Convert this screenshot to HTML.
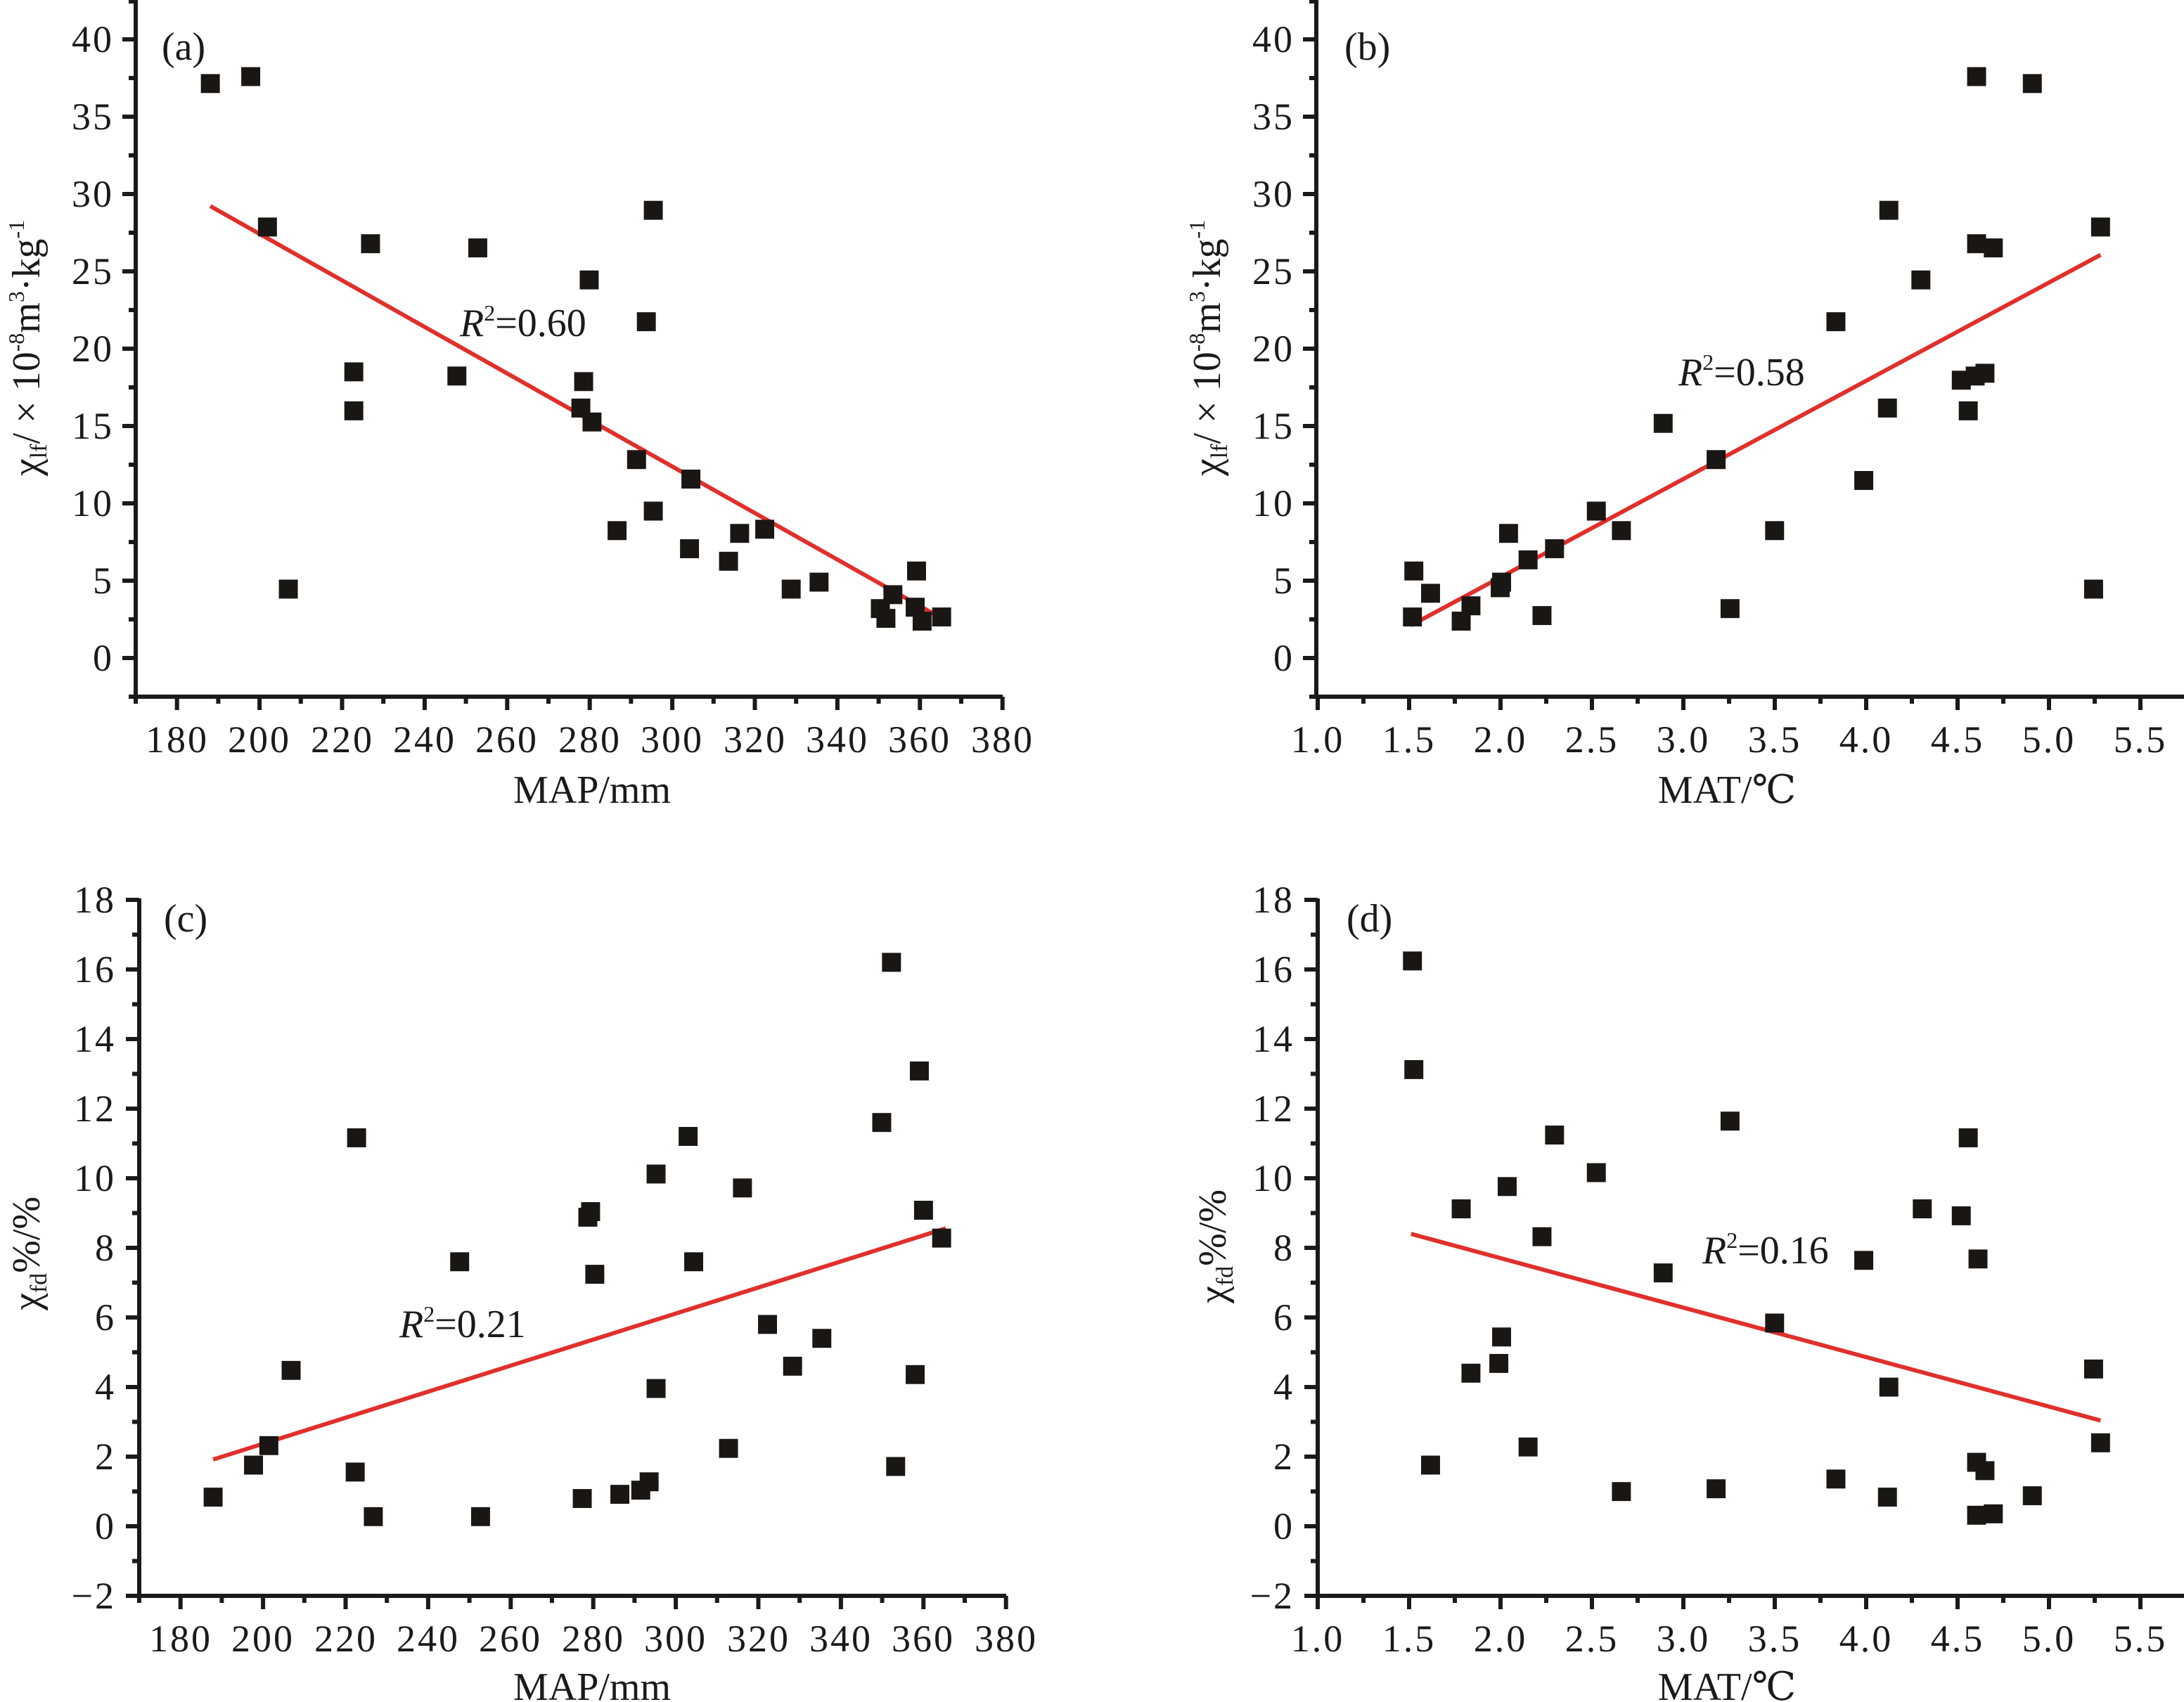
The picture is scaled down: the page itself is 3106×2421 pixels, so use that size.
<!DOCTYPE html>
<html><head><meta charset="utf-8"><style>
html,body{margin:0;padding:0;background:#fff;}
svg{display:block;}
text{font-family:"Liberation Serif","DejaVu Serif",serif;fill:#1a1a1a;}
.tk{font-size:54px;letter-spacing:3px;}
.ti{font-size:56px;}
</style></head><body>
<svg width="3106" height="2421" viewBox="0 0 3106 2421" xmlns="http://www.w3.org/2000/svg">
<defs>
<g id="xmap" stroke="#1a1a1a" stroke-width="6" fill="none">
<path d="M188,991H1426 M251.7,991v19 M369.1,991v19 M486.5,991v19 M603.9,991v19 M721.3,991v19 M838.7,991v19 M956.1,991v19 M1073.5,991v19 M1190.9,991v19 M1308.3,991v19 M1425.7,991v19 M193,991v10 M310.4,991v10 M427.8,991v10 M545.2,991v10 M662.6,991v10 M780,991v10 M897.4,991v10 M1014.8,991v10 M1132.2,991v10 M1249.6,991v10 M1367,991v10"/>
</g>
<g id="xmat" stroke="#1a1a1a" stroke-width="6" fill="none">
<path d="M1866,991H3106 M1874,991v19 M2004,991v19 M2134,991v19 M2264,991v19 M2394,991v19 M2524,991v19 M2654,991v19 M2784,991v19 M2914,991v19 M3044,991v19 M1939,991v10 M2069,991v10 M2199,991v10 M2329,991v10 M2459,991v10 M2589,991v10 M2719,991v10 M2849,991v10 M2979,991v10"/>
</g>
<g id="ychi" stroke="#1a1a1a" stroke-width="6" fill="none">
<path d="M193,0V994 M174,936h19 M174,826h19 M174,716h19 M174,606h19 M174,496h19 M174,386h19 M174,276h19 M174,166h19 M174,56h19 M183,991h10 M183,881h10 M183,771h10 M183,661h10 M183,551h10 M183,441h10 M183,331h10 M183,221h10 M183,111h10 M183,2h10"/>
</g>
<g id="yfd" stroke="#1a1a1a" stroke-width="6" fill="none">
<path d="M198,1278V2273 M179,2270h19 M179,2171h19 M179,2072h19 M179,1973h19 M179,1874h19 M179,1775h19 M179,1676h19 M179,1577h19 M179,1478h19 M179,1379h19 M179,1280h19 M188,2220.5h10 M188,2121.5h10 M188,2022.5h10 M188,1923.5h10 M188,1824.5h10 M188,1725.5h10 M188,1626.5h10 M188,1527.5h10 M188,1428.5h10 M188,1329.5h10"/>
</g>
</defs>

<!-- Panel a -->
<use href="#xmap"/>
<use href="#ychi"/>
<g class="tk" text-anchor="end">
<text x="162" y="954">0</text><text x="162" y="844">5</text><text x="162" y="734">10</text><text x="162" y="624">15</text><text x="162" y="514">20</text><text x="162" y="404">25</text><text x="162" y="294">30</text><text x="162" y="184">35</text><text x="162" y="74">40</text>
</g>
<g class="tk" text-anchor="middle">
<text x="252" y="1070">180</text><text x="369" y="1070">200</text><text x="487" y="1070">220</text><text x="604" y="1070">240</text><text x="721" y="1070">260</text><text x="839" y="1070">280</text><text x="956" y="1070">300</text><text x="1074" y="1070">320</text><text x="1191" y="1070">340</text><text x="1308" y="1070">360</text><text x="1426" y="1070">380</text>
</g>
<text class="ti" x="842" y="1142" text-anchor="middle">MAP/mm</text>
<text class="ti" x="230" y="85">(a)</text>
<text class="ti" x="654" y="478"><tspan font-style="italic">R</tspan><tspan font-size="32" dy="-22">2</tspan><tspan dy="22">=0.60</tspan></text>
<text class="ti" transform="translate(56,495) rotate(-90)" text-anchor="middle">χ<tspan font-size="34" dy="10">lf</tspan><tspan dy="-10">/ × 10</tspan><tspan font-size="32" dy="-22">-8</tspan><tspan dy="22">m</tspan><tspan font-size="32" dy="-22">3</tspan><tspan dy="22">·kg</tspan><tspan font-size="32" dy="-22">-1</tspan></text>

<!-- Panel b -->
<use href="#xmat"/>
<use href="#ychi" transform="translate(1679,0)"/>
<g class="tk" text-anchor="end">
<text x="1841" y="954">0</text><text x="1841" y="844">5</text><text x="1841" y="734">10</text><text x="1841" y="624">15</text><text x="1841" y="514">20</text><text x="1841" y="404">25</text><text x="1841" y="294">30</text><text x="1841" y="184">35</text><text x="1841" y="74">40</text>
</g>
<g class="tk" text-anchor="middle">
<text x="1874" y="1070">1.0</text><text x="2004" y="1070">1.5</text><text x="2134" y="1070">2.0</text><text x="2264" y="1070">2.5</text><text x="2394" y="1070">3.0</text><text x="2524" y="1070">3.5</text><text x="2654" y="1070">4.0</text><text x="2784" y="1070">4.5</text><text x="2914" y="1070">5.0</text><text x="3044" y="1070">5.5</text>
</g>
<text class="ti" x="2456" y="1142" text-anchor="middle">MAT/℃</text>
<text class="ti" x="1912" y="85">(b)</text>
<text class="ti" x="2387" y="548"><tspan font-style="italic">R</tspan><tspan font-size="32" dy="-22">2</tspan><tspan dy="22">=0.58</tspan></text>
<text class="ti" transform="translate(1735,495) rotate(-90)" text-anchor="middle">χ<tspan font-size="34" dy="10">lf</tspan><tspan dy="-10">/ × 10</tspan><tspan font-size="32" dy="-22">-8</tspan><tspan dy="22">m</tspan><tspan font-size="32" dy="-22">3</tspan><tspan dy="22">·kg</tspan><tspan font-size="32" dy="-22">-1</tspan></text>

<!-- Panel c -->
<use href="#xmap" transform="translate(5,1279)"/>
<use href="#yfd"/>
<g class="tk" text-anchor="end">
<text x="165" y="2288">−2</text><text x="165" y="2189">0</text><text x="165" y="2090">2</text><text x="165" y="1991">4</text><text x="165" y="1892">6</text><text x="165" y="1793">8</text><text x="165" y="1694">10</text><text x="165" y="1595">12</text><text x="165" y="1496">14</text><text x="165" y="1397">16</text><text x="165" y="1298">18</text>
</g>
<g class="tk" text-anchor="middle">
<text x="257" y="2349">180</text><text x="374" y="2349">200</text><text x="492" y="2349">220</text><text x="609" y="2349">240</text><text x="726" y="2349">260</text><text x="844" y="2349">280</text><text x="961" y="2349">300</text><text x="1079" y="2349">320</text><text x="1196" y="2349">340</text><text x="1313" y="2349">360</text><text x="1431" y="2349">380</text>
</g>
<text class="ti" x="842" y="2418" text-anchor="middle">MAP/mm</text>
<text class="ti" x="233" y="1325">(c)</text>
<text class="ti" x="568" y="1902"><tspan font-style="italic">R</tspan><tspan font-size="32" dy="-22">2</tspan><tspan dy="22">=0.21</tspan></text>
<text class="ti" transform="translate(56,1783) rotate(-90)" text-anchor="middle">χ<tspan font-size="34" dy="10">fd</tspan><tspan dy="-10">%/%</tspan></text>

<!-- Panel d -->
<use href="#xmat" transform="translate(0,1279)"/>
<use href="#yfd" transform="translate(1676,0)"/>
<g class="tk" text-anchor="end">
<text x="1841" y="2288">−2</text><text x="1841" y="2189">0</text><text x="1841" y="2090">2</text><text x="1841" y="1991">4</text><text x="1841" y="1892">6</text><text x="1841" y="1793">8</text><text x="1841" y="1694">10</text><text x="1841" y="1595">12</text><text x="1841" y="1496">14</text><text x="1841" y="1397">16</text><text x="1841" y="1298">18</text>
</g>
<g class="tk" text-anchor="middle">
<text x="1874" y="2349">1.0</text><text x="2004" y="2349">1.5</text><text x="2134" y="2349">2.0</text><text x="2264" y="2349">2.5</text><text x="2394" y="2349">3.0</text><text x="2524" y="2349">3.5</text><text x="2654" y="2349">4.0</text><text x="2784" y="2349">4.5</text><text x="2914" y="2349">5.0</text><text x="3044" y="2349">5.5</text>
</g>
<text class="ti" x="2456" y="2418" text-anchor="middle">MAT/℃</text>
<text class="ti" x="1915" y="1325">(d)</text>
<text class="ti" x="2421" y="1797"><tspan font-style="italic">R</tspan><tspan font-size="32" dy="-22">2</tspan><tspan dy="22">=0.16</tspan></text>
<text class="ti" transform="translate(1743,1773) rotate(-90)" text-anchor="middle">χ<tspan font-size="34" dy="10">fd</tspan><tspan dy="-10">%/%</tspan></text>

<!-- data in display coords -->
<g transform="scale(1.981)">
<g stroke="#e0302c" stroke-width="3" fill="none">
<line x1="151" y1="148" x2="676" y2="444"/>
<line x1="1013" y1="449" x2="1508" y2="183"/>
<line x1="153" y1="1048" x2="679" y2="882"/>
<line x1="1013" y1="886" x2="1508" y2="1020"/>
</g>
<g fill="#1a1614" transform="translate(-6.8,-6.8)">
<!-- a -->
<rect x="151" y="60" width="13.6" height="13.6"/><rect x="180" y="55" width="13.6" height="13.6"/><rect x="192" y="163" width="13.6" height="13.6"/><rect x="207" y="423" width="13.6" height="13.6"/><rect x="254" y="267" width="13.6" height="13.6"/><rect x="254" y="295" width="13.6" height="13.6"/><rect x="266" y="175" width="13.6" height="13.6"/><rect x="328" y="270" width="13.6" height="13.6"/><rect x="343" y="178" width="13.6" height="13.6"/><rect x="417" y="293" width="13.6" height="13.6"/><rect x="419" y="274" width="13.6" height="13.6"/><rect x="423" y="201" width="13.6" height="13.6"/><rect x="425" y="303" width="13.6" height="13.6"/><rect x="443" y="381" width="13.6" height="13.6"/><rect x="457" y="330" width="13.6" height="13.6"/><rect x="464" y="231" width="13.6" height="13.6"/><rect x="469" y="151" width="13.6" height="13.6"/><rect x="469" y="367" width="13.6" height="13.6"/><rect x="495" y="394" width="13.6" height="13.6"/><rect x="496" y="344" width="13.6" height="13.6"/><rect x="523" y="403" width="13.6" height="13.6"/><rect x="531" y="383" width="13.6" height="13.6"/><rect x="549" y="380" width="13.6" height="13.6"/><rect x="568" y="423" width="13.6" height="13.6"/><rect x="588" y="418" width="13.6" height="13.6"/><rect x="632" y="437" width="13.6" height="13.6"/><rect x="636" y="444" width="13.6" height="13.6"/><rect x="641" y="427" width="13.6" height="13.6"/><rect x="657" y="436" width="13.6" height="13.6"/><rect x="658" y="410" width="13.6" height="13.6"/><rect x="662" y="446" width="13.6" height="13.6"/><rect x="676" y="443" width="13.6" height="13.6"/>
<!-- b -->
<rect x="1015" y="410" width="13.6" height="13.6"/><rect x="1014" y="443" width="13.6" height="13.6"/><rect x="1027" y="426" width="13.6" height="13.6"/><rect x="1049" y="446" width="13.6" height="13.6"/><rect x="1056" y="435" width="13.6" height="13.6"/><rect x="1077" y="422" width="13.6" height="13.6"/><rect x="1078" y="418" width="13.6" height="13.6"/><rect x="1083" y="383" width="13.6" height="13.6"/><rect x="1097" y="402" width="13.6" height="13.6"/><rect x="1107" y="442" width="13.6" height="13.6"/><rect x="1116" y="394" width="13.6" height="13.6"/><rect x="1146" y="367" width="13.6" height="13.6"/><rect x="1164" y="381" width="13.6" height="13.6"/><rect x="1194" y="304" width="13.6" height="13.6"/><rect x="1232" y="330" width="13.6" height="13.6"/><rect x="1242" y="437" width="13.6" height="13.6"/><rect x="1274" y="381" width="13.6" height="13.6"/><rect x="1318" y="231" width="13.6" height="13.6"/><rect x="1338" y="345" width="13.6" height="13.6"/><rect x="1356" y="151" width="13.6" height="13.6"/><rect x="1355" y="293" width="13.6" height="13.6"/><rect x="1379" y="201" width="13.6" height="13.6"/><rect x="1408" y="273" width="13.6" height="13.6"/><rect x="1413" y="295" width="13.6" height="13.6"/><rect x="1418" y="270" width="13.6" height="13.6"/><rect x="1419" y="55" width="13.6" height="13.6"/><rect x="1419" y="175" width="13.6" height="13.6"/><rect x="1425" y="268" width="13.6" height="13.6"/><rect x="1431" y="178" width="13.6" height="13.6"/><rect x="1459" y="60" width="13.6" height="13.6"/><rect x="1503" y="423" width="13.6" height="13.6"/><rect x="1508" y="163" width="13.6" height="13.6"/>
<!-- c -->
<rect x="153" y="1075" width="13.6" height="13.6"/><rect x="182" y="1052" width="13.6" height="13.6"/><rect x="193" y="1038" width="13.6" height="13.6"/><rect x="209" y="984" width="13.6" height="13.6"/><rect x="255" y="1057" width="13.6" height="13.6"/><rect x="256" y="817" width="13.6" height="13.6"/><rect x="268" y="1089" width="13.6" height="13.6"/><rect x="330" y="906" width="13.6" height="13.6"/><rect x="345" y="1089" width="13.6" height="13.6"/><rect x="418" y="1076" width="13.6" height="13.6"/><rect x="422" y="874" width="13.6" height="13.6"/><rect x="424" y="870" width="13.6" height="13.6"/><rect x="427" y="915" width="13.6" height="13.6"/><rect x="445" y="1073" width="13.6" height="13.6"/><rect x="460" y="1070" width="13.6" height="13.6"/><rect x="466" y="1064" width="13.6" height="13.6"/><rect x="471" y="997" width="13.6" height="13.6"/><rect x="471" y="843" width="13.6" height="13.6"/><rect x="494" y="816" width="13.6" height="13.6"/><rect x="498" y="906" width="13.6" height="13.6"/><rect x="523" y="1040" width="13.6" height="13.6"/><rect x="533" y="853" width="13.6" height="13.6"/><rect x="551" y="951" width="13.6" height="13.6"/><rect x="569" y="981" width="13.6" height="13.6"/><rect x="590" y="961" width="13.6" height="13.6"/><rect x="633" y="806" width="13.6" height="13.6"/><rect x="640" y="691" width="13.6" height="13.6"/><rect x="643" y="1053" width="13.6" height="13.6"/><rect x="657" y="987" width="13.6" height="13.6"/><rect x="660" y="769" width="13.6" height="13.6"/><rect x="663" y="869" width="13.6" height="13.6"/><rect x="676" y="889" width="13.6" height="13.6"/>
<!-- d -->
<rect x="1014" y="690" width="13.6" height="13.6"/><rect x="1015" y="768" width="13.6" height="13.6"/><rect x="1027" y="1052" width="13.6" height="13.6"/><rect x="1049" y="868" width="13.6" height="13.6"/><rect x="1056" y="986" width="13.6" height="13.6"/><rect x="1076" y="979" width="13.6" height="13.6"/><rect x="1078" y="960" width="13.6" height="13.6"/><rect x="1082" y="852" width="13.6" height="13.6"/><rect x="1097" y="1039" width="13.6" height="13.6"/><rect x="1107" y="888" width="13.6" height="13.6"/><rect x="1116" y="815" width="13.6" height="13.6"/><rect x="1146" y="842" width="13.6" height="13.6"/><rect x="1164" y="1071" width="13.6" height="13.6"/><rect x="1194" y="914" width="13.6" height="13.6"/><rect x="1232" y="1069" width="13.6" height="13.6"/><rect x="1242" y="805" width="13.6" height="13.6"/><rect x="1274" y="950" width="13.6" height="13.6"/><rect x="1318" y="1062" width="13.6" height="13.6"/><rect x="1338" y="905" width="13.6" height="13.6"/><rect x="1355" y="1075" width="13.6" height="13.6"/><rect x="1356" y="996" width="13.6" height="13.6"/><rect x="1380" y="868" width="13.6" height="13.6"/><rect x="1408" y="873" width="13.6" height="13.6"/><rect x="1413" y="817" width="13.6" height="13.6"/><rect x="1419" y="1050" width="13.6" height="13.6"/><rect x="1419" y="1088" width="13.6" height="13.6"/><rect x="1420" y="904" width="13.6" height="13.6"/><rect x="1425" y="1056" width="13.6" height="13.6"/><rect x="1431" y="1087" width="13.6" height="13.6"/><rect x="1459" y="1074" width="13.6" height="13.6"/><rect x="1503" y="983" width="13.6" height="13.6"/><rect x="1508" y="1036" width="13.6" height="13.6"/>
</g>
</g>
</svg>
</body></html>
